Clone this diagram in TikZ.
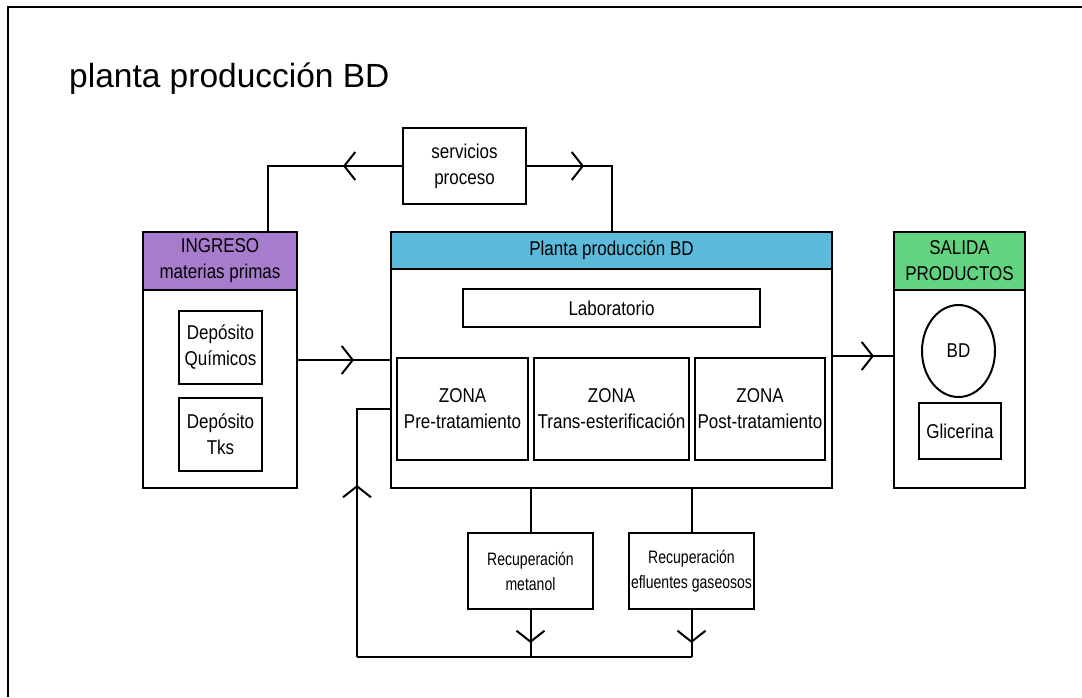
\documentclass[tikz,border=0pt]{standalone}
\usepackage{fontspec}
\setmainfont{Liberation Sans}
\newfontfamily\bodyfont{Liberation Sans}[FakeStretch=0.85]
\newfontfamily\smallfont{Liberation Sans}[FakeStretch=0.78]
\usetikzlibrary{arrows.meta,decorations.markings,shapes.geometric,calc}
\definecolor{ingcol}{RGB}{168,124,204}
\definecolor{placol}{RGB}{92,186,218}
\definecolor{salcol}{RGB}{98,212,128}
\tikzset{
  box/.style={draw=black, line width=2pt, fill=white, align=center, inner sep=0pt,
    font=\bodyfont\fontsize{20}{26}\selectfont},
  smallbox/.style={box, font=\smallfont\fontsize{18}{25}\selectfont},
  conn/.style={line width=2pt},
  chev/.style={conn, postaction={decorate, decoration={markings,
    mark=at position #1 with {\arrow{Straight Barb[length=11pt,width=28pt,line width=2pt]}}}}}
}
\begin{document}
\begin{tikzpicture}[x=1pt,y=-1pt]
\useasboundingbox (0,0) rectangle (1082,697);
% frame
\draw[line width=2.5pt] (8,697) -- (8,7) -- (1082,7);
\node[anchor=base west, inner sep=0pt, font=\fontsize{33.5}{40}\selectfont] (title) at (69,87) {planta producción BD};

% servicios
\node[box, minimum width=123pt, minimum height=76pt] (serv) at (464.5,166) {servicios\\proceso};

% ingreso
\node[box, minimum width=154pt, minimum height=256pt] (ing) at (220,360) {};
\node[box, fill=ingcol, minimum width=154pt, minimum height=58pt] (ingh) at (220,261) {INGRESO\\materias primas};
\node[box, minimum width=83pt, minimum height=73pt] (dq) at (220.5,347.5) {Depósito\\Químicos};
\node[box, minimum width=83pt, minimum height=73pt] (dt) at (220.5,434.5) {Depósito\\Tks};

% planta
\node[box, minimum width=441pt, minimum height=256pt] (planta) at (611.5,360) {};
\node[box, fill=placol, minimum width=441pt, minimum height=37pt] (plah) at (611.5,250.5) {Planta producción BD};
\node[box, minimum width=297pt, minimum height=38pt] (lab) at (611.5,308) {Laboratorio};
\node[box, minimum width=131pt, minimum height=102pt] (z1) at (462.5,409) {ZONA\\Pre-tratamiento};
\node[box, minimum width=155pt, minimum height=102pt] (z2) at (611.5,409) {ZONA\\Trans-esterificación};
\node[box, minimum width=130pt, minimum height=102pt] (z3) at (760,409) {ZONA\\Post-tratamiento};

% recuperacion
\node[smallbox, minimum width=125pt, minimum height=76pt] (rm) at (530.5,571) {Recuperación\\metanol};
\node[smallbox, minimum width=125pt, minimum height=76pt] (re) at (691.5,571) {Recuperación\\efluentes gaseosos};

% salida
\node[box, minimum width=131pt, minimum height=256pt] (sal) at (959.5,360) {};
\node[box, fill=salcol, minimum width=131pt, minimum height=58pt] (salh) at (959.5,261) {SALIDA\\PRODUCTOS};
\node[box, ellipse, minimum width=73pt, minimum height=92pt] (bd) at (958.5,351) {BD};
\node[box, minimum width=82pt, minimum height=56pt] (gli) at (960,431) {Glicerina};

% connectors
\draw[chev=59pt] (serv.west) -| ($(ing.north)+(48,0)$);
\draw[chev=57pt] (serv.east) -| (planta.north);
\draw[chev=56pt] (ing.east) -- (planta.west);
\draw[chev=41pt] ([yshift=4pt]planta.east) -- ([yshift=4pt]sal.west);
\draw[conn] (rm.north) -- (rm.north |- planta.south);
\draw[conn] (re.north) -- (re.north |- planta.south);
\coordinate (bl) at (357,657);
\coordinate (br) at (691.5,657);
\draw[chev=33pt] (rm.south) -- (rm.south |- br);
\draw[chev=33pt] (re.south) -- (br);
\draw[conn] (br) -- (bl);
\draw[chev=172pt] (bl) |- (planta.west |- z1.west);
\end{tikzpicture}
\end{document}
